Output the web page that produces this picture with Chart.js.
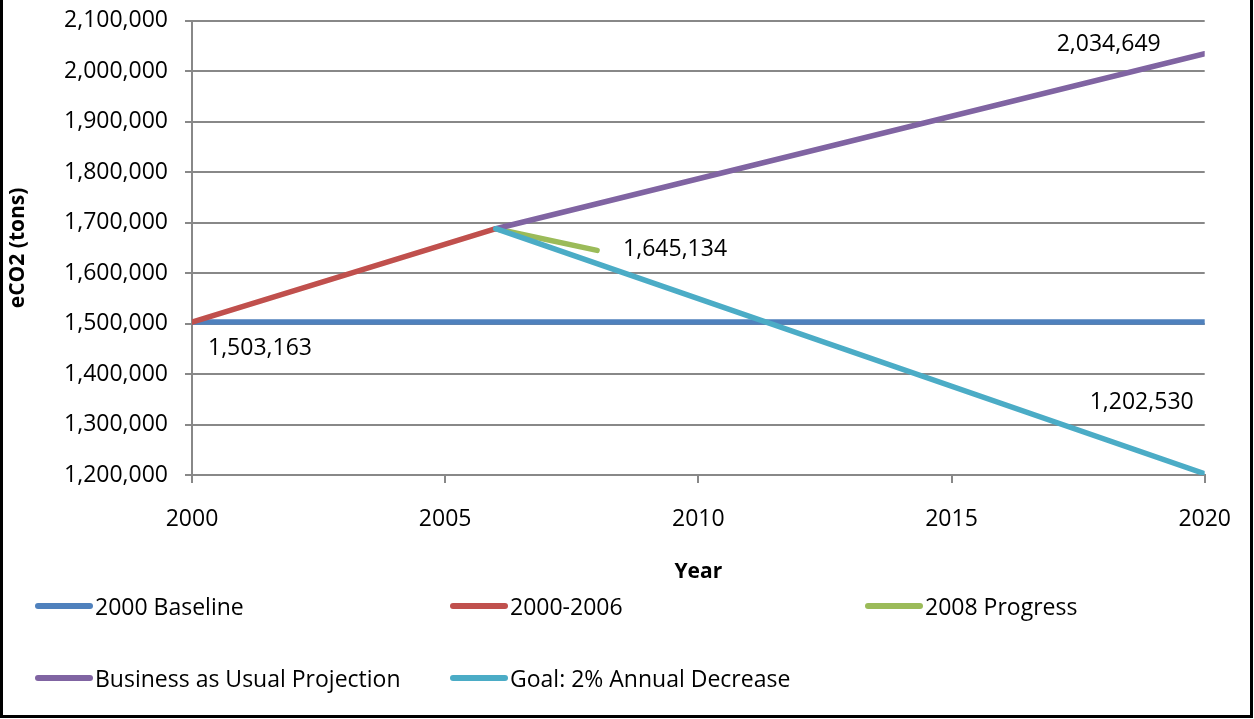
<!DOCTYPE html>
<html>
<head>
<meta charset="utf-8">
<script src="https://cdn.jsdelivr.net/npm/chart.js@4.4.0/dist/chart.umd.min.js"></script>
<style>
  body { margin: 0; background: #fff; font-family: "Open Sans", sans-serif; }
  #frame { position: absolute; left: 0; top: -20px; width: 1253px; height: 738px; box-sizing: border-box; border: 3px solid #000; }
  #wrap { position: absolute; left: 0; top: -10px; width: 1254px; height: 600px; }
  #legend { position: absolute; left: 35px; top: 588px; width: 1210px; display: grid; grid-template-columns: 415px 415px 380px; grid-auto-rows: 72px; }
  .item { display: flex; align-items: center; height: 36px; font-size: 23px; color: #000; }
  .swatch { width: 58px; height: 6px; border-radius: 3px; margin-right: 2px; }
</style>
</head>
<body>
<div id="frame"></div>
<div id="wrap"><canvas id="myChart" width="1254" height="600"></canvas></div>
<div id="legend"></div>
<script>
// values
const seriesNames = ['2000 Baseline', '2000-2006', '2008 Progress', 'Business as Usual Projection', 'Goal: 2% Annual Decrease'];
const baselineYears = [2000, 2020];
const baselineValues = [1503163, 1503163];
const historyYears = [2000, 2006];
const historyValues = [1503163, 1688000];
const progressYears = [2006, 2008];
const progressValues = [1688000, 1645134];
const bauYears = [2006, 2020];
const bauValues = [1688000, 2034649];
const goalYears = [2006, 2020];
const goalValues = [1688000, 1202530];
const yearTicks = [2000, 2005, 2010, 2015, 2020];
const colors = ['#4F81BD', '#C0504D', '#9BBB59', '#8064A2', '#4BACC6'];

const pairs = (xs, ys) => xs.map((x, i) => ({ x: x, y: ys[i] }));
const seriesData = [
    pairs(baselineYears, baselineValues),
    pairs(historyYears, historyValues),
    pairs(progressYears, progressValues),
    pairs(bauYears, bauValues),
    pairs(goalYears, goalValues)
];

// value labels: dataset, point, offset from the point
const labelSpots = [
    { ds: 0, pt: 0, dx: 68, dy: 26 },
    { ds: 2, pt: 1, dx: 78, dy: -1 },
    { ds: 3, pt: 1, dx: -96, dy: -9 },
    { ds: 4, pt: 1, dx: -63, dy: -71 }
];

const fmt = v => Number(v).toLocaleString('en-US');

const valueLabels = {
    id: 'valueLabels',
    afterDatasetsDraw(chart) {
        const c = chart.ctx;
        c.save();
        c.font = '23px "Open Sans"';
        c.fillStyle = '#000';
        c.textAlign = 'center';
        c.textBaseline = 'middle';
        labelSpots.forEach(s => {
            const p = chart.getDatasetMeta(s.ds).data[s.pt];
            const v = chart.data.datasets[s.ds].data[s.pt].y;
            c.fillText(fmt(v), p.x + s.dx, p.y + s.dy);
        });
        c.restore();
    }
};

const ctx = document.getElementById('myChart');
const chart = new Chart(ctx, {
    type: 'line',
    data: {
        datasets: seriesNames.map((name, i) => ({
            label: name,
            data: seriesData[i],
            borderColor: colors[i],
            backgroundColor: colors[i],
            borderWidth: 5.5,
            borderCapStyle: 'round',
            pointRadius: 0,
            tension: 0,
            order: 5 - i
        }))
    },
    options: {
        responsive: false,
        animation: false,
        devicePixelRatio: 1,
        layout: { padding: { top: 8, right: 48, left: 0, bottom: 0 } },
        plugins: {
            legend: { display: false },
            tooltip: { enabled: false }
        },
        scales: {
            x: {
                type: 'linear',
                min: 2000,
                max: 2020,
                afterBuildTicks: s => { s.ticks = yearTicks.map(v => ({ value: v })); },
                afterFit: s => { s.height = 115; },
                grid: { drawOnChartArea: false, drawTicks: true, tickLength: 8, color: '#888', lineWidth: 2 },
                border: { display: true, color: '#888', width: 2 },
                ticks: { padding: 23, color: '#000', font: { family: 'Open Sans', size: 23 }, callback: v => String(v), maxRotation: 0 },
                title: { display: true, text: 'Year', color: '#000', font: { family: 'Open Sans', size: 21, weight: 'bold' }, padding: { top: 0, bottom: 5 } }
            },
            y: {
                min: 1200000,
                max: 2100000,
                afterFit: s => { s.width = 192; },
                grid: { color: '#888', lineWidth: 2, tickLength: 7 },
                border: { display: true, color: '#888', width: 2 },
                ticks: { stepSize: 100000, padding: 17, color: '#000', font: { family: 'Open Sans', size: 23 }, callback: v => fmt(v) },
                title: { display: true, text: 'eCO2 (tons)', color: '#000', font: { family: 'Open Sans', size: 21, weight: 'bold' }, padding: { top: 5, bottom: 0 } }
            }
        }
    },
    plugins: [valueLabels]
});

// legend laid out in a 3-column grid like the original
const legend = document.getElementById('legend');
chart.data.datasets.forEach(ds => {
    const item = document.createElement('div');
    item.className = 'item';
    const sw = document.createElement('span');
    sw.className = 'swatch';
    sw.style.background = ds.borderColor;
    const txt = document.createElement('span');
    txt.textContent = ds.label;
    item.appendChild(sw);
    item.appendChild(txt);
    legend.appendChild(item);
});
</script>
</body>
</html>
